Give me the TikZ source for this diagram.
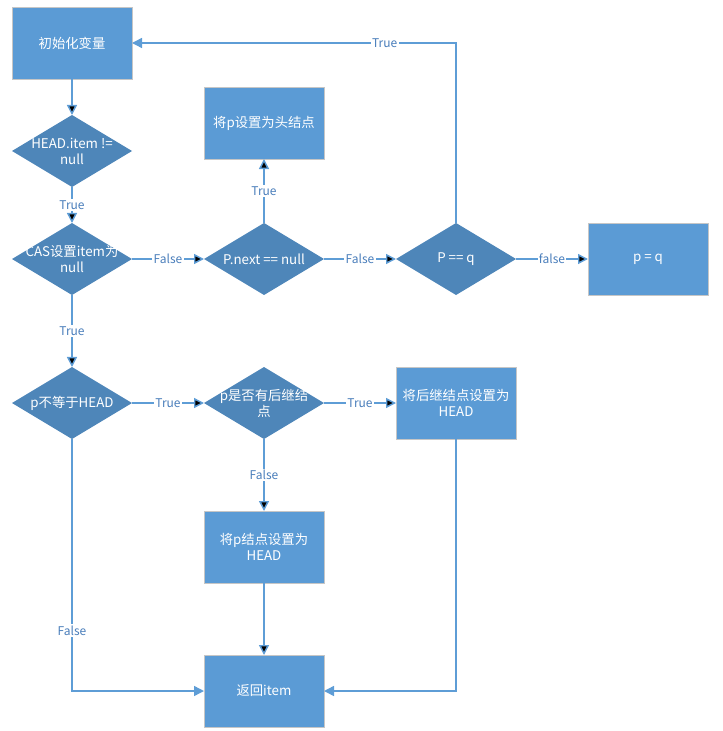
\documentclass[tikz,border=0pt]{standalone}
\usepackage{fontspec}
\newfontfamily\cjk{Noto Sans CJK SC}
\usetikzlibrary{shapes.geometric, positioning, arrows.meta}
\definecolor{boxblue}{HTML}{5B9BD5}
\definecolor{diablue}{HTML}{4E86B9}
\definecolor{lineblue}{HTML}{5E9DD6}
\definecolor{txtblue}{HTML}{4A7EBB}
\tikzset{
>={Triangle[length=7.5pt,width=7.5pt]}, % filled heads like the original
node distance=54pt, % gap between the shapes
process/.style={rectangle, fill=boxblue, draw=gray!45, line width=0.6pt, outer sep=0pt, minimum width=90pt, minimum height=54pt, text=white, font=\cjk\fontsize{10}{12}\selectfont, align=center, inner sep=2pt},
decision/.style={diamond, fill=diablue, outer sep=0pt, minimum width=90pt, minimum height=54pt, inner sep=0pt},
dtext/.style={text=white, font=\cjk\fontsize{10}{12}\selectfont, align=center, inner sep=0pt},
flow/.style={->, draw=lineblue, line width=1.1pt},
cond/.style={fill=white, text=txtblue, font=\cjk\fontsize{9}{10}\selectfont, inner sep=1pt},
}

\begin{document}
\begin{tikzpicture}
        \useasboundingbox (0,0) rectangle (541.5pt,-548.25pt);
        \node[process] (init) at (54pt,-32.25pt) {初始化变量};
        \node[decision, below=27pt of init, label={[dtext]center:{HEAD.item !=\\null}}] (d1) {};
        \node[decision, below=27pt of d1, label={[dtext]center:{CAS设置item为\\null}}] (d2) {};
        \node[decision, right=of d2, label={[dtext]center:{P.next == null}}] (d3) {};
        \node[decision, right=of d3, label={[dtext]center:{P == q}}] (d4) {};
        \node[process, right=of d4] (pq) {p = q};
        \node[process, above=48pt of d3] (head) {将p设置为头结点};
        \node[decision, below=of d2, label={[dtext]center:{p不等于HEAD}}] (d5) {};
        \node[decision, right=of d5, label={[dtext]center:{p是否有后继结\\点}}] (d6) {};
        \node[process, right=of d6] (succ) {将后继结点设置为\\HEAD};
        \node[process, below=of d6] (pset) {将p结点设置为\\HEAD};
        \node[process, below=of pset] (ret) {返回item};
        \draw[flow]
        (init) edge (d1)
        (d1) edge node[cond]{True} (d2)
        (d2) edge node[cond]{False} (d3)
        (d3) edge node[cond]{True} (head)
        (d3) edge node[cond]{False} (d4)
        (d4) edge node[cond]{false} (pq)
        (d2) edge node[cond]{True} (d5)
        (d5) edge node[cond]{True} (d6)
        (d6) edge node[cond]{True} (succ)
        (d6) edge node[cond]{False} (pset)
        (pset) edge (ret);
        % loops back and joins
        \draw[flow] (d4.north) |- node[cond, pos=0.61]{True} (init);
        \draw[flow] (d5.south) |- node[cond, pos=0.38]{False} (ret);
        \draw[flow] (succ.south) |- (ret);
\end{tikzpicture}
\end{document}
